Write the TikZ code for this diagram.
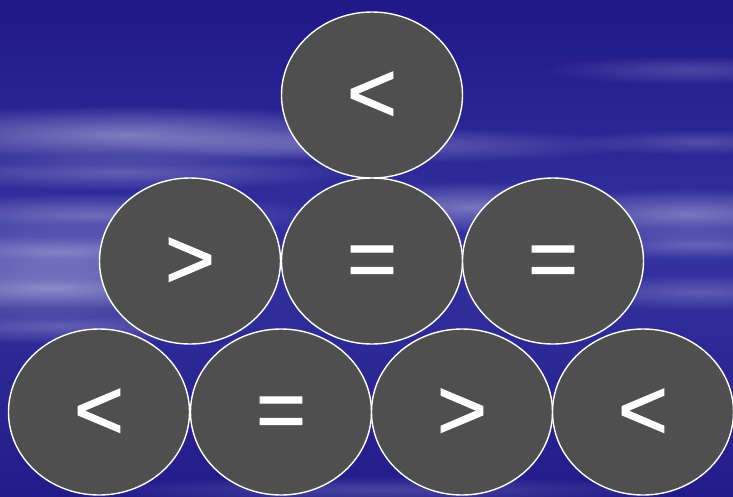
\documentclass[tikz,border=0pt]{standalone}
\usepackage{fontspec}
\setmainfont{Liberation Sans}
\newfontfamily\symfont[FakeBold=1.2]{Liberation Sans}
\usetikzlibrary{shapes.geometric,fadings}
\tikzfading[name=blob, inner color=transparent!0, outer color=transparent!100]
\definecolor{bgtop}{RGB}{31,24,136}
\definecolor{bgmid}{RGB}{52,50,160}
\definecolor{bgbot}{RGB}{34,28,138}
\definecolor{eggfill}{RGB}{79,79,79}
\tikzset{
  egg/.style={ellipse, draw=white, line width=1.4pt, fill=eggfill,
    minimum width=181pt, minimum height=166pt, inner sep=0pt},
  sym/.style={text=white, font=\symfont\fontsize{86}{86}\selectfont, inner sep=0pt,
    anchor=base, yshift=-27pt},
  streak/.style={fill=white, path fading=blob}
}
\begin{document}
\begin{tikzpicture}[x=1pt,y=-1pt]
\useasboundingbox (0,0) rectangle (733,496);
% background
\shade[top color=bgtop, bottom color=bgbot, middle color=bgmid] (0,0) rectangle (733,496);
\fill[streak, opacity=0.40] (130,135) ellipse [x radius=300, y radius=30];
\fill[streak, opacity=0.25] (380,145) ellipse [x radius=260, y radius=18];
\fill[streak, opacity=0.25] (120,172) ellipse [x radius=240, y radius=18];
\fill[streak, opacity=0.30] (90,215) ellipse [x radius=230, y radius=22];
\fill[streak, opacity=0.40] (60,252) ellipse [x radius=220, y radius=28];
\fill[streak, opacity=0.45] (50,288) ellipse [x radius=230, y radius=30];
\fill[streak, opacity=0.25] (60,326) ellipse [x radius=200, y radius=18];
\fill[streak, opacity=0.35] (470,207) ellipse [x radius=150, y radius=26];
\fill[streak, opacity=0.35] (690,214) ellipse [x radius=190, y radius=26];
\fill[streak, opacity=0.25] (700,244) ellipse [x radius=150, y radius=16];
\fill[streak, opacity=0.22] (700,292) ellipse [x radius=160, y radius=18];
\fill[streak, opacity=0.18] (690,70) ellipse [x radius=150, y radius=15];
\fill[streak, opacity=0.18] (700,142) ellipse [x radius=130, y radius=13];
\fill[streak, opacity=0.18] (380,490) ellipse [x radius=300, y radius=14];
% eggs
\node[egg] (t)  at (372,95)  {};
\node[egg] (m1) at (190,261) {};
\node[egg] (m2) at (372,261) {};
\node[egg] (m3) at (553,261) {};
\node[egg] (b1) at (99,412)  {};
\node[egg] (b2) at (281,412) {};
\node[egg] (b3) at (462,412) {};
\node[egg] (b4) at (643,412) {};
% symbols
\node[sym] (st)  at (t.center)  {<};
\node[sym] (sm1) at (m1.center) {>};
\node[sym] (sm2) at (m2.center) {=};
\node[sym] (sm3) at (m3.center) {=};
\node[sym] (sb1) at (b1.center) {<};
\node[sym] (sb2) at (b2.center) {=};
\node[sym] (sb3) at (b3.center) {>};
\node[sym] (sb4) at (b4.center) {<};
\end{tikzpicture}
\end{document}
